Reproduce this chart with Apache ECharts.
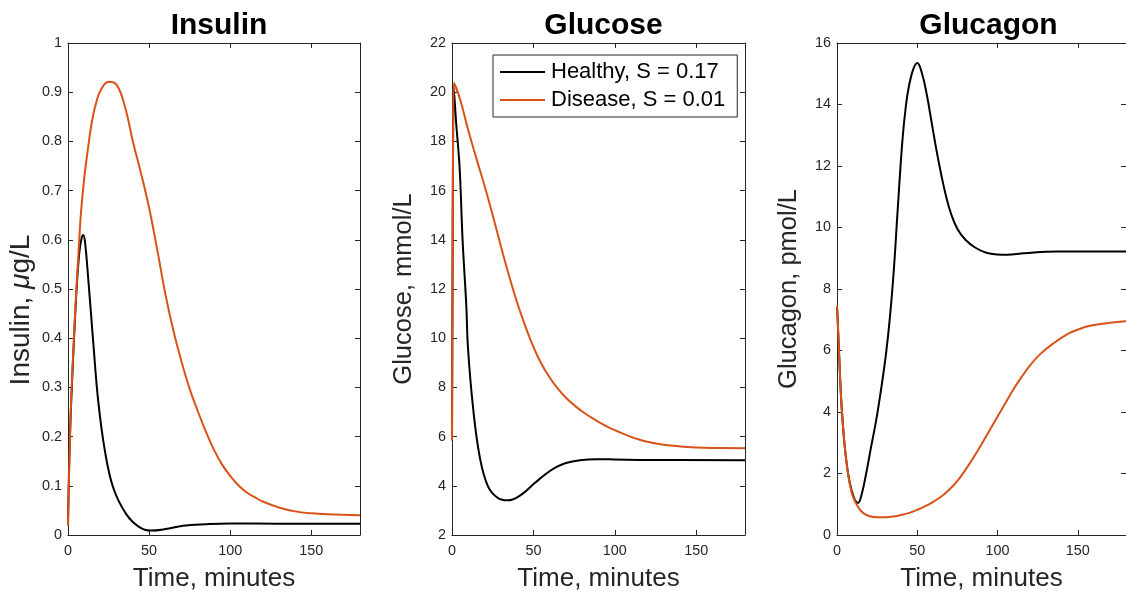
<!DOCTYPE html>
<html>
<head>
<meta charset="utf-8">
<script src="https://cdn.jsdelivr.net/npm/echarts@6/dist/echarts.min.js"></script>
<style>
html,body{margin:0;padding:0;background:#fff;}
#chart{width:1126px;height:597px;}
</style>
</head>
<body>
<div id="chart"></div>
<script>
// ---------- data ----------
const seriesNames = ['Healthy, S = 0.17', 'Disease, S = 0.01'];
const panelTitles = ['Insulin', 'Glucose', 'Glucagon'];
const xTicks = [0, 50, 100, 150];

// Insulin (µg/L)
const insulinHealthyT = [0, 1.2, 3.3, 5.3, 7, 8.5, 9.4, 10.5, 12.5, 15.6, 18.7, 22.8, 28, 36, 44, 51, 60, 71, 85, 100, 130, 180];
const insulinHealthyV = [0.02, 0.20, 0.37, 0.50, 0.575, 0.605, 0.61, 0.595, 0.52, 0.39, 0.27, 0.17, 0.095, 0.042, 0.016, 0.009, 0.012, 0.019, 0.022, 0.0235, 0.023, 0.023];
const insulinDiseaseT = [0, 1, 2, 3.5, 5, 6.5, 8, 10, 12.5, 15, 17.5, 20, 25, 30, 35, 40, 45, 50, 55, 60, 65, 70, 75, 80, 85, 90, 95, 100, 105, 110, 115, 120, 130, 140, 150, 160, 180];
const insulinDiseaseV = [0.02, 0.17, 0.28, 0.39, 0.49, 0.575, 0.655, 0.725, 0.79, 0.845, 0.88, 0.903, 0.921, 0.915, 0.872, 0.80, 0.735, 0.665, 0.58, 0.49, 0.415, 0.352, 0.297, 0.252, 0.21, 0.173, 0.143, 0.12, 0.101, 0.087, 0.077, 0.068, 0.056, 0.048, 0.044, 0.042, 0.040];

// Glucose (mmol/L)
const glucoseHealthyT = [0, 0.3, 0.7, 1, 2.5, 4.7, 6.5, 8.8, 9.8, 12.9, 17, 22.1, 28.3, 34.4, 42.6, 50.8, 58, 64, 70, 78.5, 88.7, 100, 120, 180];
const glucoseHealthyV = [5.85, 12, 18.5, 20.2, 18.8, 16.9, 14, 11.3, 9.62, 7.2, 5.19, 3.98, 3.5, 3.41, 3.64, 4.11, 4.5, 4.76, 4.93, 5.04, 5.08, 5.07, 5.05, 5.04];
const glucoseDiseaseT = [0, 0.3, 0.7, 1.2, 5, 10, 15, 20, 25, 30, 35, 40, 45, 50, 55, 60, 65, 70, 75, 80, 85, 90, 95, 100, 105, 110, 115, 120, 130, 140, 150, 160, 180];
const glucoseDiseaseV = [5.85, 12, 18.5, 20.37, 19.7, 18.45, 17.3, 16.2, 15.0, 13.75, 12.55, 11.45, 10.5, 9.65, 8.95, 8.4, 7.95, 7.58, 7.28, 7.02, 6.8, 6.6, 6.42, 6.26, 6.12, 5.99, 5.88, 5.79, 5.67, 5.6, 5.56, 5.54, 5.53];

// Glucagon (pmol/L)
const glucagonHealthyT = [0, 0.5, 1.4, 2.9, 5.5, 9, 13.1, 15.5, 18.2, 21, 24.4, 27.5, 30.5, 33, 35.5, 37.7, 40.7, 43, 45, 47.5, 50, 53, 56, 59, 62, 65, 68, 71, 75, 80, 86, 93, 100, 106, 116.5, 137, 180];
const glucagonHealthyV = [7.45, 6.9, 5.77, 4.16, 2.55, 1.47, 1.04, 1.35, 2.01, 2.8, 3.73, 4.75, 5.88, 7.1, 8.7, 10.5, 12.8, 14.0, 14.65, 15.15, 15.35, 15.0, 14.3, 13.4, 12.5, 11.7, 11.0, 10.45, 9.95, 9.6, 9.35, 9.18, 9.12, 9.11, 9.16, 9.22, 9.22];
const glucagonDiseaseT = [0, 0.5, 1.4, 2.9, 5.5, 9, 13, 16.2, 20, 25, 30, 35, 40, 45, 50, 55, 60, 65, 70, 75, 80, 85, 90, 95, 100, 105, 110, 115, 120, 125, 130, 135, 140, 145, 150, 155, 160, 170, 180];
const glucagonDiseaseV = [7.45, 6.9, 5.77, 4.16, 2.55, 1.4, 0.92, 0.72, 0.62, 0.58, 0.58, 0.6, 0.65, 0.72, 0.82, 0.94, 1.08, 1.25, 1.48, 1.76, 2.12, 2.52, 2.95, 3.4, 3.85, 4.3, 4.75, 5.14, 5.5, 5.8, 6.04, 6.24, 6.42, 6.57, 6.68, 6.77, 6.83, 6.9, 6.95];

// axis ranges
const yMins = [0, 2, 0];
const yMaxs = [1, 22, 16];
const yIntervals = [0.1, 2, 2];

// ---------- build ----------
const zip = (t, v) => t.map((x, i) => [x, v[i]]);
const panelData = [
  [zip(insulinHealthyT, insulinHealthyV), zip(insulinDiseaseT, insulinDiseaseV)],
  [zip(glucoseHealthyT, glucoseHealthyV), zip(glucoseDiseaseT, glucoseDiseaseV)],
  [zip(glucagonHealthyT, glucagonHealthyV), zip(glucagonDiseaseT, glucagonDiseaseV)]
];
const colors = ['#000000', '#D95319'];
const axisColor = '#262626';
const FONT = '"Liberation Sans", Arial, Helvetica, sans-serif';

const grids = [
  {left: 68, top: 43, width: 292, height: 496},
  {left: 452, top: 43, width: 293, height: 496},
  {left: 837, top: 43, width: 293, height: 496}
];

const yNames = [
  '{n|Insulin, }{mu|μ}{n|g/L}{gap|}',
  'Glucose, mmol/L',
  'Glucagon, pmol/L'
];
const yNameSizes = [28, 25.5, 25.5];
const yNameGaps = [33, 35, 35];

const xAxes = [], yAxes = [], series = [], titles = [];
grids.forEach((g, i) => {
  const baseLine = {show: true, onZero: false, lineStyle: {color: axisColor, width: 1}};
  const tick = {show: true, inside: true, length: 5, lineStyle: {color: axisColor, width: 1}};
  xAxes.push({
    type: 'value', gridIndex: i, position: 'bottom', min: 0, max: 180, interval: 50,
    axisLine: baseLine, axisTick: tick, splitLine: {show: false},
    axisLabel: {color: axisColor, fontSize: 14.4, fontFamily: FONT, margin: 9, showMaxLabel: false,
      formatter: v => xTicks.indexOf(v) >= 0 ? String(v) : ''},
    name: 'Time, minutes', nameLocation: 'middle', nameGap: 31,
    nameTextStyle: {color: axisColor, fontSize: 26, fontFamily: FONT}
  });
  xAxes.push({
    type: 'value', gridIndex: i, position: 'top', min: 0, max: 180, interval: 50,
    axisLine: baseLine, axisTick: tick, splitLine: {show: false}, axisLabel: {show: false}
  });
  const fs = yNameSizes[i];
  yAxes.push({
    type: 'value', gridIndex: i, position: 'left', min: yMins[i], max: yMaxs[i], interval: yIntervals[i],
    axisLine: baseLine, axisTick: tick, splitLine: {show: false},
    axisLabel: {color: axisColor, fontSize: 14.4, fontFamily: FONT, margin: 6,
      formatter: v => String(Math.round(v * 1000) / 1000)},
    name: yNames[i], nameLocation: 'middle', nameGap: yNameGaps[i], nameRotate: 90,
    nameTextStyle: {color: axisColor, fontSize: fs, fontFamily: FONT,
      rich: {
        n: {fontSize: fs, fontFamily: FONT, color: axisColor},
        mu: {fontSize: fs, fontFamily: FONT, color: axisColor, fontStyle: 'italic'},
        gap: {width: 42}
      }}
  });
  yAxes.push({
    type: 'value', gridIndex: i, position: 'right', min: yMins[i], max: yMaxs[i], interval: yIntervals[i],
    axisLine: baseLine, axisTick: tick, splitLine: {show: false}, axisLabel: {show: false}
  });
  titles.push({
    text: panelTitles[i], left: g.left + g.width / 2, top: 6, textAlign: 'center',
    textStyle: {fontSize: 30, fontWeight: 'bold', fontFamily: FONT, color: '#000'}
  });
  panelData[i].forEach((d, k) => {
    series.push({
      name: seriesNames[k], type: 'line', xAxisIndex: 2 * i, yAxisIndex: 2 * i,
      data: d, showSymbol: false, symbol: 'none', smooth: 0.4,
      lineStyle: {color: colors[k], width: 2}, itemStyle: {color: colors[k]},
      animation: false, z: 2 + k
    });
  });
});

const chart = echarts.init(document.getElementById('chart'), null, {renderer: 'canvas'});
chart.setOption({
  animation: false,
  backgroundColor: '#ffffff',
  title: titles,
  grid: grids,
  xAxis: xAxes,
  yAxis: yAxes,
  legend: {
    data: seriesNames, orient: 'vertical', left: 493, top: 55,
    padding: [6, 12, 6, 7], itemGap: 6, itemWidth: 45, itemHeight: 2, icon: 'rect',
    backgroundColor: '#ffffff', borderColor: axisColor, borderWidth: 1, borderRadius: 0,
    selectedMode: false,
    textStyle: {fontSize: 22, fontFamily: FONT, color: '#000', lineHeight: 22, padding: [0, 0, 0, 1]}
  },
  series: series
});
</script>
</body>
</html>
